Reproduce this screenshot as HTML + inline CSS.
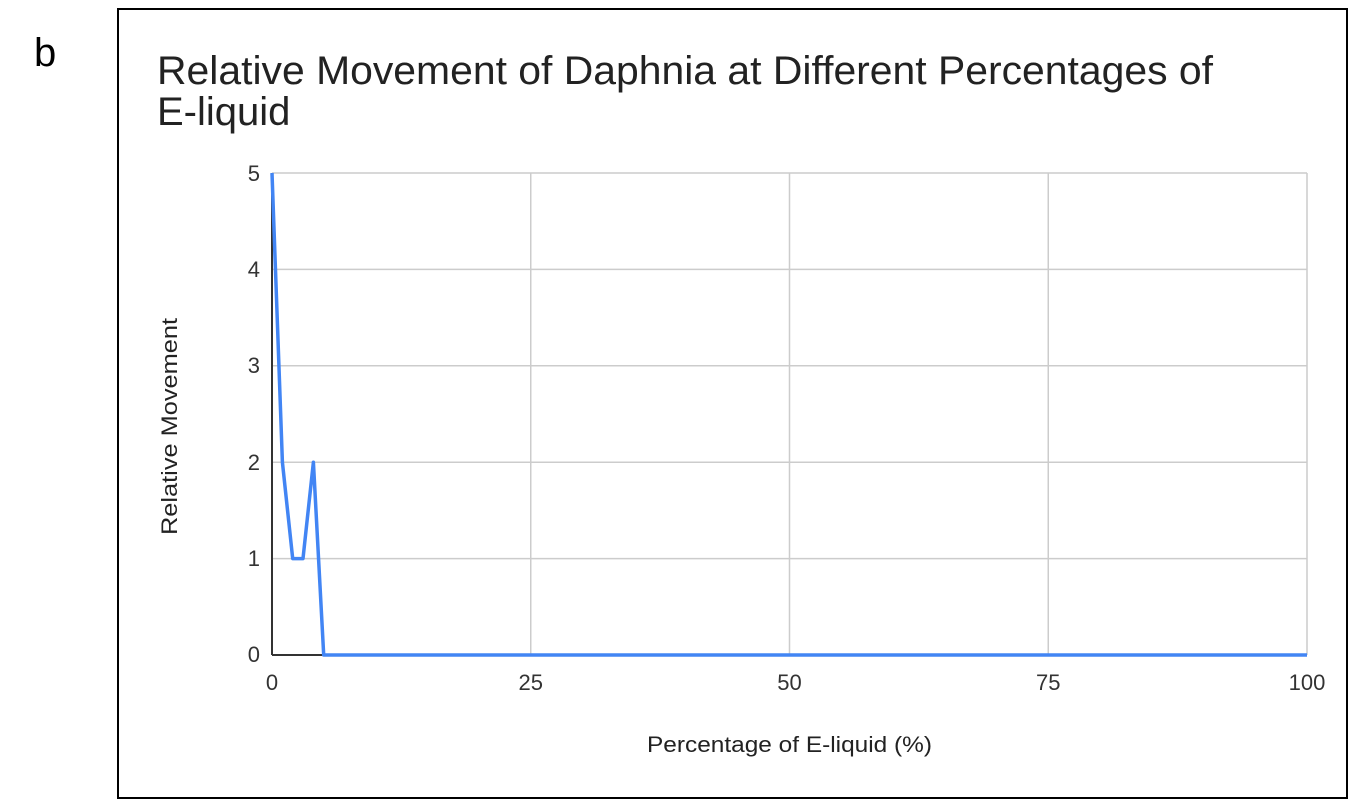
<!DOCTYPE html>
<html><head><meta charset="utf-8"><style>
body{margin:0;background:#fff;width:1356px;height:806px;overflow:hidden}
</style></head><body>
<svg width="1356" height="806" xmlns="http://www.w3.org/2000/svg" font-family="Liberation Sans, Arial, sans-serif">
<rect width="1356" height="806" fill="#fff"/>
<text x="34" y="66" font-size="40" fill="#000">b</text>
<rect x="118" y="9" width="1229" height="789" fill="none" stroke="#000" stroke-width="2"/>
<text x="157" y="84" font-size="40" fill="#222" textLength="1056" lengthAdjust="spacingAndGlyphs">Relative Movement of Daphnia at Different Percentages of</text>
<text x="157" y="125" font-size="40" fill="#222">E-liquid</text>
<g stroke="#ccc" stroke-width="1.5">
<line x1="272" y1="173" x2="1307" y2="173"/>
<line x1="272" y1="269.4" x2="1307" y2="269.4"/>
<line x1="272" y1="365.8" x2="1307" y2="365.8"/>
<line x1="272" y1="462.2" x2="1307" y2="462.2"/>
<line x1="272" y1="558.6" x2="1307" y2="558.6"/>
<line x1="530.75" y1="173" x2="530.75" y2="655"/>
<line x1="789.5" y1="173" x2="789.5" y2="655"/>
<line x1="1048.25" y1="173" x2="1048.25" y2="655"/>
<line x1="1307" y1="173" x2="1307" y2="655"/>
</g>
<line x1="272" y1="173" x2="272" y2="655" stroke="#333" stroke-width="2"/>
<line x1="272" y1="655" x2="1307" y2="655" stroke="#333" stroke-width="2"/>
<polyline points="272,173 282.4,462.2 292.7,558.6 303,558.6 313.4,462.2 323.7,655 1307,655" fill="none" stroke="#4285f4" stroke-width="3.5" stroke-linejoin="round"/>
<g font-size="22" fill="#333" text-anchor="end">
<text x="260" y="181">5</text>
<text x="260" y="277">4</text>
<text x="260" y="373">3</text>
<text x="260" y="470">2</text>
<text x="260" y="566">1</text>
<text x="260" y="662">0</text>
</g>
<g font-size="22" fill="#333" text-anchor="middle">
<text x="272" y="690">0</text>
<text x="530.75" y="690">25</text>
<text x="789.5" y="690">50</text>
<text x="1048.25" y="690">75</text>
<text x="1307" y="690">100</text>
</g>
<text x="647" y="752" font-size="22" fill="#222" textLength="285" lengthAdjust="spacingAndGlyphs">Percentage of E-liquid (%)</text>
<text transform="translate(177,535) rotate(-90)" font-size="22" fill="#222" textLength="217" lengthAdjust="spacingAndGlyphs">Relative Movement</text>
</svg>
</body></html>
